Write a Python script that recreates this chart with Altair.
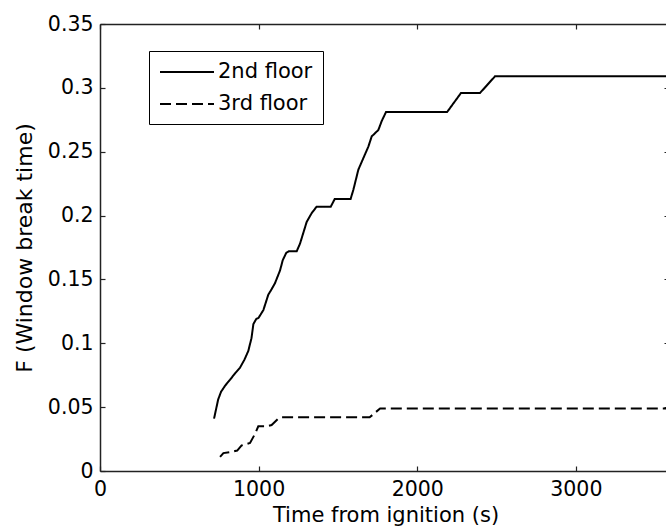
import altair as alt
import pandas as pd

FONT = "DejaVu Sans"

floors = ["2nd floor", "3rd floor"]

# 2nd floor: time from ignition (s) and cumulative fraction
t_2nd = [719, 745, 763, 790, 820, 855, 883, 910, 935, 955, 967, 985, 1000,
         1030, 1061, 1085, 1103, 1135, 1152, 1175, 1190, 1240, 1261, 1303,
         1335, 1366, 1455, 1480, 1580, 1597, 1629, 1650, 1692, 1713, 1755,
         1776, 1803, 2188, 2276, 2396, 2490, 3600]
f_2nd = [0.041, 0.056, 0.062, 0.067, 0.0715, 0.077, 0.081, 0.087, 0.094,
         0.104, 0.115, 0.119, 0.120, 0.126, 0.138, 0.143, 0.147, 0.157,
         0.165, 0.171, 0.172, 0.172, 0.178, 0.195, 0.202, 0.207, 0.207,
         0.213, 0.213, 0.220, 0.236, 0.242, 0.254, 0.262, 0.267, 0.274,
         0.281, 0.281, 0.296, 0.296, 0.309, 0.309]

# 3rd floor
t_3rd = [757, 778, 830, 865, 893, 946, 977, 998, 1051, 1082, 1124, 1145,
         1700, 1766, 3600]
f_3rd = [0.011, 0.014, 0.015, 0.016, 0.020, 0.022, 0.029, 0.035, 0.035,
         0.036, 0.041, 0.042, 0.042, 0.049, 0.049]

x_ticks = [0, 1000, 2000, 3000]
y_ticks = [0, 0.05, 0.1, 0.15, 0.2, 0.25, 0.3, 0.35]

df = pd.concat([
    pd.DataFrame({"t": t_2nd, "F": f_2nd, "floor": floors[0]}),
    pd.DataFrame({"t": t_3rd, "F": f_3rd, "floor": floors[1]}),
], ignore_index=True)

x_scale = alt.Scale(domain=[0, 3600], range=[0, 571], nice=False, zero=False)
y_scale = alt.Scale(domain=[0, 0.35], nice=False)
inward = {"expr": "-5"}

base = alt.Chart(df)

lines = base.mark_line(color="black", strokeWidth=2).encode(
    x=alt.X("t:Q", scale=x_scale,
            axis=alt.Axis(orient="bottom", values=x_ticks, format="d",
                          tickSize=inward, labelPadding=13, labelFlush=False,
                          title="Time from ignition (s)", titlePadding=5)),
    y=alt.Y("F:Q", scale=y_scale,
            axis=alt.Axis(orient="left", values=y_ticks, format="~g",
                          tickSize=inward, labelPadding=12, labelFlush=False,
                          title="F (Window break time)", titlePadding=11,
                          titleFontSize=22)),
    strokeDash=alt.StrokeDash(
        "floor:N",
        scale=alt.Scale(domain=floors, range=[[1, 0], [11, 5]]),
        legend=alt.Legend(
            title=None, orient="none", legendX=49, legendY=27,
            direction="vertical",
            # short horizontal stroke, 54 px long at size 400
            symbolType="M-2.7,0H2.7", symbolSize=400, symbolOffset=17,
            symbolStrokeWidth=2, symbolStrokeColor="black",
            labelFont=FONT, labelFontSize=21, labelColor="black",
            labelOffset=20, rowPadding=11, padding=10,
            strokeColor="black", fillColor="white", cornerRadius=0,
        ),
    ),
)

# invisible layer carrying the top and right frame axes
frame = base.mark_line(opacity=0).encode(
    x=alt.X("t:Q", scale=x_scale,
            axis=alt.Axis(orient="top", values=x_ticks, labels=False,
                          tickSize=inward, title=None)),
    y=alt.Y("F:Q", scale=y_scale,
            axis=alt.Axis(orient="right", values=y_ticks, labels=False,
                          tickSize=inward, domain=False, offset=3, title=None)),
    detail="floor:N",
)

chart = (
    alt.layer(lines, frame)
    .resolve_axis(x="independent", y="independent")
    .properties(
        width=566, height=447,
        padding={"left": 100, "top": 24, "right": 0, "bottom": 60},
        autosize=alt.AutoSizeParams(type="none"),
        background="white",
    )
    .configure_view(stroke=None)
    .configure_axis(
        grid=False,
        domainColor="#222", domainWidth=1.5,
        tickColor="#222", tickWidth=1.2,
        labelFont=FONT, labelFontSize=20.5, labelColor="black",
        titleFont=FONT, titleFontSize=21, titleColor="black",
        titleFontWeight="normal",
    )
)

chart.save("out.html", embed_options={"renderer": "svg", "actions": False})
